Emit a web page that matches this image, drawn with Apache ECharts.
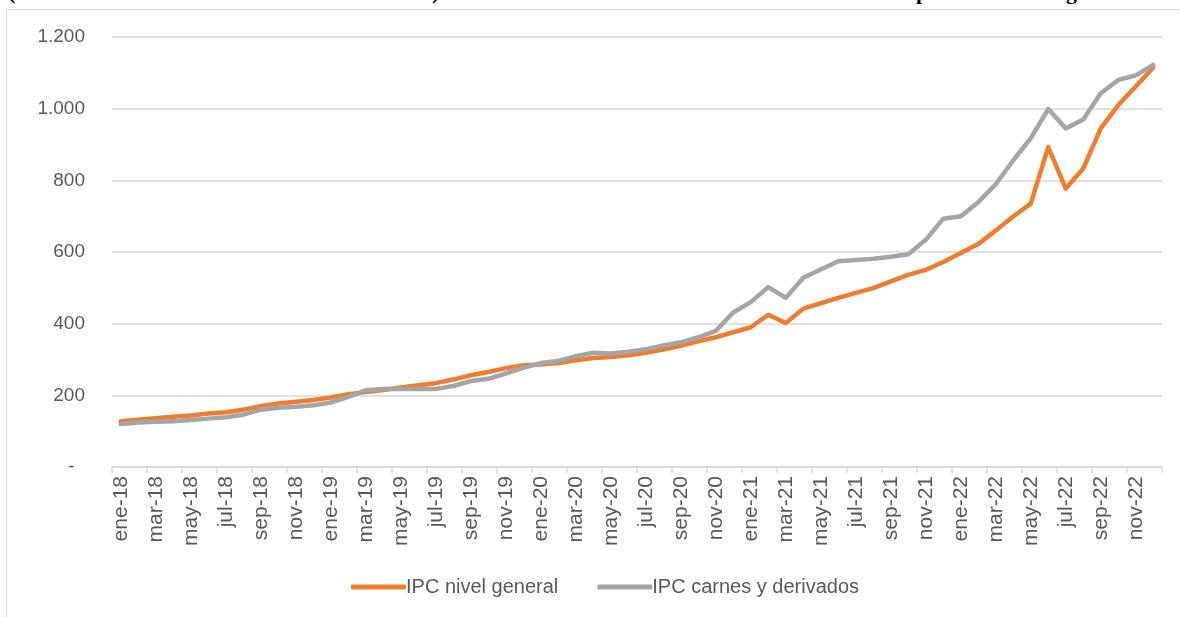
<!DOCTYPE html>
<html>
<head>
<meta charset="utf-8">
<script src="https://cdn.jsdelivr.net/npm/echarts@6/dist/echarts.min.js"></script>
<style>
html,body{margin:0;padding:0;background:#fff;}
#c{width:1180px;height:617px;}
</style>
</head>
<body>
<div id="c"></div>
<script>
const months = ['ene','feb','mar','abr','may','jun','jul','ago','sep','oct','nov','dic'];
const years = ['18','19','20','21','22'];
const categories = [];
years.forEach(y => months.forEach(m => categories.push(m + '-' + y)));

const ipcGeneral = [
  128, 132, 136, 140, 144, 149, 153, 160, 170, 177, 182, 187,
  194, 203, 209, 215, 222, 228, 234, 244, 256, 265, 276, 284,
  286, 290, 298, 304, 307, 312, 319, 328, 338, 351, 362, 376,
  390, 425, 402, 442, 457, 472, 486, 499, 518, 536, 550, 572,
  597, 622, 660, 699, 735, 893, 777, 833, 945, 1010, 1062, 1115
];
const ipcCarnes = [
  120, 124, 126, 128, 131, 135, 139, 146, 160, 165, 168, 172,
  180, 196, 214, 218, 218, 218, 218, 226, 240, 246, 261, 277,
  290, 296, 309, 319, 317, 322, 329, 339, 348, 362, 380, 431,
  460, 502, 472, 528, 551, 574, 578, 581, 587, 594, 634, 693,
  700, 739, 789, 856, 917, 999, 945, 970, 1043, 1080, 1093, 1122
];
const seriesNames = ['IPC nivel general', 'IPC carnes y derivados'];
const yTicks = [0, 200, 400, 600, 800, 1000, 1200];

const FONT = "'Liberation Sans Narrow', 'Arial Narrow', 'Liberation Sans', Arial, sans-serif";
const TFONT = 'bold 22px "Liberation Serif", serif';
const chart = echarts.init(document.getElementById('c'));
chart.setOption({
  backgroundColor: '#fff',
  animation: false,
  graphic: [
    {type:'rect', shape:{x:6.5, y:9.5, width:1300, height:800}, style:{fill:'none', stroke:'#d9d9d9', lineWidth:1}},
    {type:'text', x:8, y:-18, style:{text:'(', font:TFONT, fill:'#000'}},
    {type:'text', x:432, y:-18, style:{text:')', font:TFONT, fill:'#000'}},
    {type:'text', x:916, y:-18, style:{text:'p', font:TFONT, fill:'#000'}},
    {type:'text', x:1066, y:-18, style:{text:'g', font:TFONT, fill:'#000'}}
  ],
  grid: {left:112, right:18, top:37, bottom:150, containLabel:false},
  legend: {
    data: seriesNames,
    left: 346,
    top: 572,
    icon: 'roundRect',
    itemWidth: 55,
    itemHeight: 5,
    itemGap: 39,
    textStyle: {fontFamily: FONT, fontSize: 20, color:'#595959', padding:[0,0,0,-5]}
  },
  xAxis: {
    type: 'category',
    data: categories,
    boundaryGap: true,
    axisLine: {show:true, lineStyle:{color:'#d9d9d9', width:1.5}},
    axisTick: {show:true, interval:1, length:6, lineStyle:{color:'#d9d9d9', width:1.5}},
    axisLabel: {interval:1, rotate:90, margin:9, fontFamily: FONT, fontSize:21, color:'#595959'},
    splitLine: {show:false}
  },
  yAxis: {
    type: 'value',
    min: yTicks[0],
    max: yTicks[yTicks.length-1],
    interval: 200,
    axisLine: {show:false},
    axisTick: {show:false},
    axisLabel: {
      margin: 27,
      fontFamily: FONT, fontSize: 19, color:'#595959',
      formatter: v => v === 0 ? '-  ' : v.toString().replace(/\B(?=(\d{3})+(?!\d))/g, '.')
    },
    splitLine: {lineStyle:{color:'#d9d9d9', width:1.5}}
  },
  series: [
    {name: seriesNames[0], type:'line', data: ipcGeneral, symbol:'none', itemStyle:{color:'#ED7D31'},
     lineStyle:{color:'#ED7D31', width:4.5, cap:'round', join:'round'}},
    {name: seriesNames[1], type:'line', data: ipcCarnes, symbol:'none', itemStyle:{color:'#A5A5A5'},
     lineStyle:{color:'#A5A5A5', width:4.5, cap:'round', join:'round'}}
  ]
});
</script>
</body>
</html>
